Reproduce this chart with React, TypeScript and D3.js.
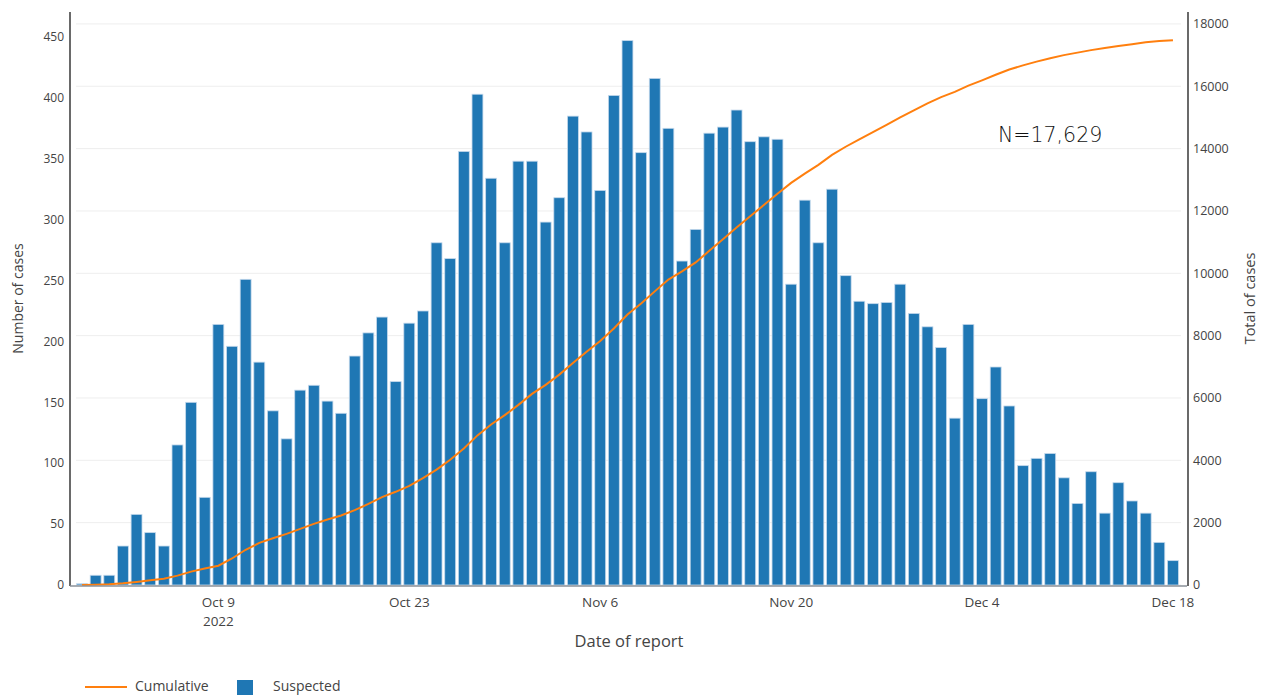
import React from "react";
import * as d3 from "d3";

// ---- Data ----
const firstDay = "2022-09-29";
const lastDay = "2022-12-18";

const suspected: number[] = [
  1, 8, 8, 32, 58, 43, 32, 115, 150, 72,
  214, 196, 251, 183, 143, 120, 160, 164, 151, 141,
  188, 207, 220, 167, 215, 225, 281, 268, 356, 403,
  334, 281, 348, 348, 298, 318, 385, 372, 324, 402,
  447, 355, 416, 375, 266, 292, 371, 376, 390, 364,
  368, 366, 247, 316, 281, 325, 254, 233, 231, 232,
  247, 223, 212, 195, 137, 214, 153, 179, 147, 98,
  104, 108, 88, 67, 93, 59, 84, 69, 59, 35, 20,
];

const cumulative: number[] = [
  0, 10, 25, 55, 100, 150, 200, 300, 430, 530,
  620, 850, 1130, 1350, 1500, 1640, 1800, 1960, 2100, 2230,
  2400, 2600, 2820, 2990, 3180, 3430, 3700, 4020, 4380, 4800,
  5150, 5450, 5780, 6130, 6420, 6750, 7120, 7480, 7830, 8230,
  8680, 9030, 9420, 9800, 10060, 10350, 10720, 11090, 11470, 11830,
  12190, 12550, 12900, 13200, 13480, 13800, 14060, 14300, 14530, 14760,
  15000, 15230, 15450, 15650, 15820, 16020, 16190, 16370, 16540, 16670,
  16790, 16900, 17000, 17080, 17160, 17230, 17290, 17350, 17410, 17450, 17480,
];

const xTickDates = ["2022-10-09", "2022-10-23", "2022-11-06", "2022-11-20", "2022-12-04", "2022-12-18"];
const xTickLabels = ["Oct 9", "Oct 23", "Nov 6", "Nov 20", "Dec 4", "Dec 18"];
const leftTicks = [0, 50, 100, 150, 200, 250, 300, 350, 400, 450];
const rightTicks = [0, 2000, 4000, 6000, 8000, 10000, 12000, 14000, 16000, 18000];

const W = 1267;
const H = 695;
const plot = { left: 70, right: 1187, top: 12, bottom: 585 };
const DAY = 86400000;

const BLUE = "#1f77b4";
const ORANGE = "#ff7f0e";
const FONT = "'Open Sans', 'Noto Sans', sans-serif";

export default function App() {
  const parse = (s: string) => new Date(s + "T00:00:00Z");
  const dates = d3.utcDay.range(parse(firstDay), new Date(parse(lastDay).getTime() + DAY));

  const x = d3
    .scaleUtc()
    .domain([
      new Date(parse(firstDay).getTime() - 0.88 * DAY),
      new Date(parse(lastDay).getTime() + 1.03 * DAY),
    ])
    .range([plot.left, plot.right]);
  const dayW = x(new Date(DAY)) - x(new Date(0));
  const barW = dayW * 0.8;

  const yL = d3.scaleLinear().domain([0, 470.5]).range([plot.bottom, plot.top]);
  const yR = d3.scaleLinear().domain([0, 18383]).range([plot.bottom, plot.top]);

  const line = d3
    .line<number>()
    .x((_, i) => x(dates[i]))
    .y((d) => yR(d));

  return (
    <svg
      width={W}
      height={H}
      style={{ position: "fixed", left: 0, top: 0, background: "#fff" }}
      fontFamily={FONT}
    >
      {/* gridlines */}
      {rightTicks.map((t) => (
        <line
          key={"g" + t}
          x1={plot.left + 6}
          x2={plot.right - 6}
          y1={yR(t)}
          y2={yR(t)}
          stroke="#eeeeee"
          strokeWidth={1}
        />
      ))}

      {/* bars */}
      {suspected.map((v, i) => (
        <rect
          key={"b" + i}
          x={x(dates[i]) - barW / 2}
          y={yL(v)}
          width={barW}
          height={plot.bottom - yL(v)}
          fill={BLUE}
          stroke="#c5d9ec"
          strokeWidth={0.8}
        />
      ))}

      {/* cumulative line */}
      <path d={line(cumulative) || ""} fill="none" stroke={ORANGE} strokeWidth={2} />

      {/* axes lines */}
      <line x1={plot.left} x2={plot.left} y1={plot.top} y2={plot.bottom + 1} stroke="#444" strokeWidth={1.6} />
      <line x1={plot.right + 1} x2={plot.right + 1} y1={plot.top} y2={plot.bottom + 1} stroke="#444" strokeWidth={1.6} />
      <line x1={plot.left} x2={plot.right} y1={plot.bottom + 1} y2={plot.bottom + 1} stroke="#8a9099" strokeWidth={1.6} />

      {/* left ticks */}
      {leftTicks.map((t) => (
        <text key={"l" + t} x={64} y={yL(t)} dy="0.35em" textAnchor="end" fontSize={12} fill="#444">
          {t}
        </text>
      ))}
      {/* right ticks */}
      {rightTicks.map((t) => (
        <text key={"r" + t} x={1193} y={yR(t)} dy="0.35em" textAnchor="start" fontSize={12.5} fill="#444">
          {t}
        </text>
      ))}
      {/* x ticks */}
      {xTickDates.map((d, i) => (
        <text key={"x" + d} x={x(parse(d))} y={607} textAnchor="middle" fontSize={13.5} fill="#444">
          {xTickLabels[i]}
        </text>
      ))}
      <text x={x(parse(xTickDates[0]))} y={626} textAnchor="middle" fontSize={13.5} fill="#444">
        2022
      </text>

      {/* axis titles */}
      <text x={629} y={647} textAnchor="middle" fontSize={16.5} fill="#444">
        Date of report
      </text>
      <text
        transform={`translate(23, ${(plot.top + plot.bottom) / 2}) rotate(-90)`}
        textAnchor="middle"
        fontSize={14}
        fill="#444"
      >
        Number of cases
      </text>
      <text
        transform={`translate(1255, ${(plot.top + plot.bottom) / 2}) rotate(-90)`}
        textAnchor="middle"
        fontSize={14.5}
        fill="#444"
      >
        Total of cases
      </text>

      {/* annotation */}
      <text x={998} y={142} fontSize={20.5} fill="#111" fontFamily="'DejaVu Sans', sans-serif" style={{ fontWeight: 300 }}>
        N=17,629
      </text>

      {/* legend */}
      <line x1={85} x2={127} y1={687} y2={687} stroke={ORANGE} strokeWidth={2} />
      <text x={135} y={691} fontSize={14} fill="#444">
        Cumulative
      </text>
      <rect x={237} y={680} width={16} height={15} fill={BLUE} />
      <text x={273} y={691} fontSize={14} fill="#444">
        Suspected
      </text>
    </svg>
  );
}
